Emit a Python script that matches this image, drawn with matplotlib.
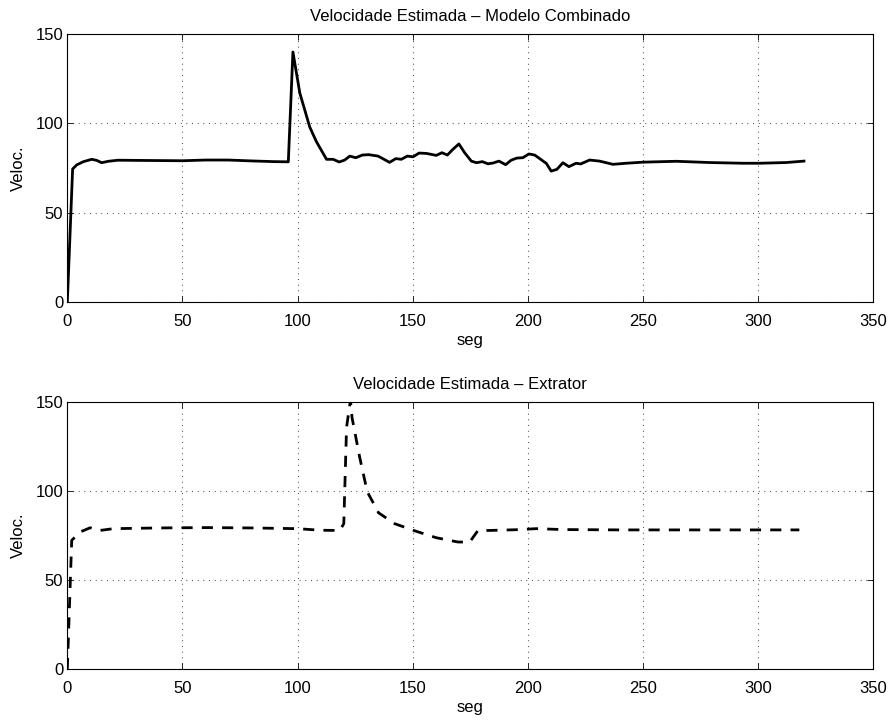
import numpy as np
import matplotlib.pyplot as plt

plt.rcParams['font.family'] = ['Liberation Sans', 'DejaVu Sans']
plt.rcParams['font.size'] = 12

# Velocidade estimada - modelo combinado
t_comb = [0, 2.3, 4.1, 7, 10.6, 12.8, 14.9, 17.8, 22, 30, 40, 50, 60, 70, 80, 90, 96,
          98, 101, 105.3, 108.2, 112.6, 115.5, 118.1, 120.5, 122.7, 125.3, 128.2, 131,
          135, 140, 142.7, 145.1, 147.7, 150.2, 152.8, 156, 160.3, 162.7, 165.1, 167.5,
          170.1, 172.6, 175.5, 177.7, 180.3, 182.7, 184.9, 187.5, 190.4, 192.8, 195.3,
          197.9, 200.5, 203, 205.1, 208.1, 210.2, 212.7, 215.3, 217.9, 221, 223, 226.9,
          231.2, 237, 242.8, 250, 264.5, 279, 293.5, 300.7, 312.3, 320]
v_comb = [0, 74.5, 76.8, 78.6, 79.9, 79.3, 78.0, 78.8, 79.4, 79.3, 79.2, 79.1, 79.5, 79.5, 79.0, 78.6, 78.5,
          140, 117, 98, 89.8, 79.9, 79.9, 78.4, 79.5, 81.7, 80.8, 82.3, 82.5,
          81.7, 78.2, 80.3, 79.9, 81.7, 81.3, 83.4, 83.2, 82.1, 83.6, 82.3, 85.5,
          88.5, 83.6, 78.9, 78.0, 78.6, 77.4, 77.8, 78.9, 76.9, 79.4, 80.6,
          80.8, 82.9, 82.3, 80.4, 77.6, 73.3, 74.3, 78.0, 75.8, 77.7, 77.3, 79.5,
          78.9, 77.1, 77.7, 78.3, 78.8, 78.1, 77.7, 77.7, 78.1, 78.9]

# Velocidade estimada - extrator
t_ext = [0, 1.9, 5.5, 9.9, 14.2, 20, 40, 60, 80, 100, 110, 118.4, 120.1, 121.3, 123,
         123.7, 127, 130.3, 135.2, 142.2, 151.6, 160.3, 169.7, 174.8, 178.4, 183.5,
         195, 203.7, 215, 240, 270, 300, 318]
v_ext = [0, 72.2, 76.9, 79.3, 77.8, 78.8, 79.2, 79.4, 79.2, 78.8, 77.9, 77.8, 81.6, 135.7, 151,
         141, 118.9, 99.5, 87.7, 81.6, 77.3, 73.7, 71.3, 71.3, 77.8, 77.8,
         78.2, 78.8, 78.3, 78.1, 78.1, 78.1, 78.1]

xticks = [0, 50, 100, 150, 200, 250, 300, 350]
yticks = [0, 50, 100, 150]

fig = plt.figure(figsize=(8.93, 7.26), dpi=100)
ax1 = fig.add_axes([0.0754, 0.584, 0.9022, 0.369])
ax2 = fig.add_axes([0.0754, 0.0785, 0.9022, 0.368])

ax1.plot(t_comb, v_comb, color='black', lw=2)
ax2.plot(t_ext, v_ext, color='black', lw=2, linestyle=(0, (4, 3.3)))

for ax, title in [(ax1, 'Velocidade Estimada \u2013 Modelo Combinado'),
                  (ax2, 'Velocidade Estimada \u2013 Extrator')]:
    ax.set_xlim(0, 350)
    ax.set_ylim(0, 150)
    ax.set_xticks(xticks)
    ax.set_yticks(yticks)
    ax.set_title(title, fontsize=12, pad=9.5)
    ax.set_xlabel('seg', labelpad=3)
    ax.set_ylabel('Veloc.', labelpad=7)
    ax.grid(True, color='black', linestyle=(0, (0.6, 4.5)), lw=0.8)
    ax.tick_params(direction='in', top=True, right=True, length=4, width=0.6,
                   labelsize=12)
    ax.tick_params(axis='x', pad=8.5)
    ax.tick_params(axis='y', pad=3)
    for s in ax.spines.values():
        s.set_linewidth(0.8)

fig.savefig('out.png', dpi=100)
